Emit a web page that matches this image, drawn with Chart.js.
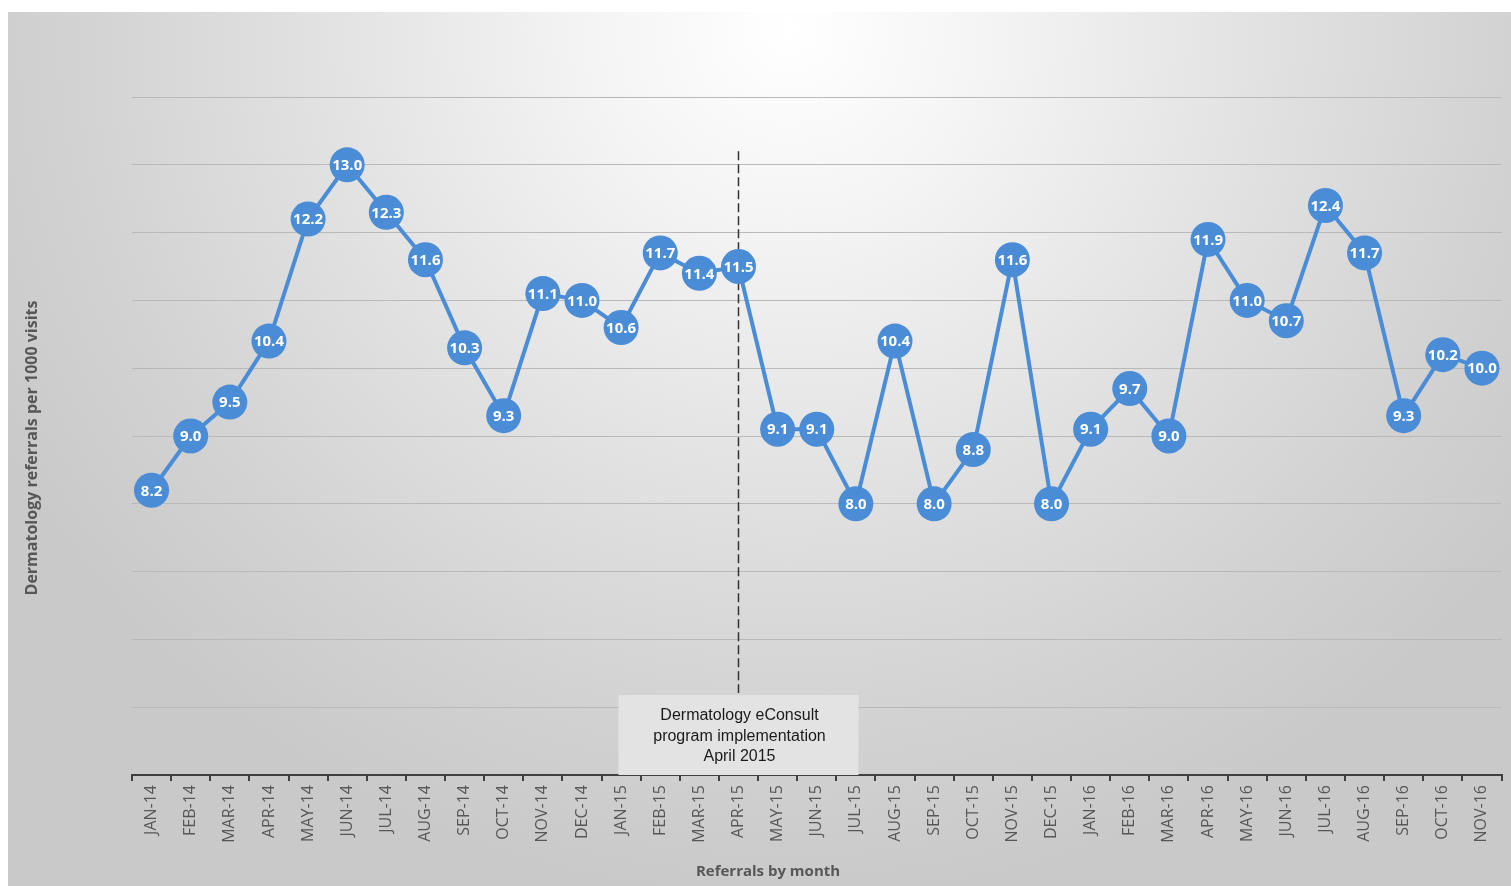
<!DOCTYPE html>
<html>
<head>
<meta charset="utf-8">
<title>Dermatology referrals per 1000 visits</title>
<script src="https://cdn.jsdelivr.net/npm/chart.js@4"></script>
<style>
  html, body { margin: 0; padding: 0; background: #ffffff; }
  #wrap { position: relative; width: 1511px; height: 886px; overflow: hidden; }
  #bg {
    position: absolute; left: 8px; top: 12px; right: 0; bottom: 0;
    background: radial-gradient(ellipse 60% 100% at 52% 2%, #ffffff 0%, #f4f4f4 22%, #e0e0e0 55%, #d2d2d2 80%, #c9c9c9 100%);
  }
  #chart { position: absolute; left: 0; top: 0; }
</style>
</head>
<body>
<div id="wrap">
  <div id="bg"></div>
  <!-- canvas is a little wider than the frame: the last rotated tick label reserves room on the right -->
  <canvas id="chart" width="1519" height="886"></canvas>
</div>
<script>
// monthly referrals, Jan 2014 - Nov 2016
const months = [
  'JAN-14', 'FEB-14', 'MAR-14', 'APR-14', 'MAY-14', 'JUN-14', 'JUL-14', 'AUG-14', 'SEP-14', 'OCT-14', 'NOV-14', 'DEC-14',
  'JAN-15', 'FEB-15', 'MAR-15', 'APR-15', 'MAY-15', 'JUN-15', 'JUL-15', 'AUG-15', 'SEP-15', 'OCT-15', 'NOV-15', 'DEC-15',
  'JAN-16', 'FEB-16', 'MAR-16', 'APR-16', 'MAY-16', 'JUN-16', 'JUL-16', 'AUG-16', 'SEP-16', 'OCT-16', 'NOV-16',
];
const referrals = [
  8.2, 9.0, 9.5, 10.4, 12.2, 13.0, 12.3, 11.6, 10.3, 9.3, 11.1, 11.0,
  10.6, 11.7, 11.4, 11.5, 9.1, 9.1, 8.0, 10.4, 8.0, 8.8, 11.6, 8.0,
  9.1, 9.7, 9.0, 11.9, 11.0, 10.7, 12.4, 11.7, 9.3, 10.2, 10.0,
];
const implementationMonth = 'APR-15';
const implementationText = ['Dermatology eConsult', 'program implementation', 'April 2015'];
const xTitle = 'Referrals by month';
const yTitle = 'Dermatology referrals per 1000 visits';

const BLUE = '#4a8dd6';
const AXIS = '#404040';
const LABEL = '#575757';

// white value labels centred in each marker
const valueLabels = {
  id: 'valueLabels',
  afterDatasetsDraw(chart) {
    const { ctx } = chart;
    const meta = chart.getDatasetMeta(0);
    ctx.save();
    ctx.font = "bold 15px 'Open Sans'";
    ctx.fillStyle = '#ffffff';
    ctx.textAlign = 'center';
    ctx.textBaseline = 'middle';
    meta.data.forEach((pt, i) => {
      ctx.fillText(referrals[i].toFixed(1), pt.x, pt.y + 1);
    });
    ctx.restore();
  },
};

// axis titles sit off-centre in the original, so place them by hand
const axisTitles = {
  id: 'axisTitles',
  afterDraw(chart) {
    const { ctx } = chart;
    ctx.save();
    ctx.fillStyle = LABEL;
    ctx.textAlign = 'center';
    ctx.textBaseline = 'middle';
    ctx.font = "bold 15px 'Open Sans'";
    ctx.fillText(xTitle, 768, 872);
    ctx.translate(32, 448);
    ctx.rotate(-Math.PI / 2);
    ctx.font = "bold 16px 'Open Sans'";
    ctx.fillText(yTitle, 0, 0);
    ctx.restore();
  },
};

// dashed implementation marker + caption box
const implementation = {
  id: 'implementation',
  beforeDatasetsDraw(chart) {
    const { ctx, scales } = chart;
    const x = scales.x.getPixelForValue(months.indexOf(implementationMonth));
    const bottom = chart.chartArea.bottom;
    ctx.save();
    // caption box
    ctx.fillStyle = '#e3e3e3';
    ctx.fillRect(x - 120, bottom - 80, 240, 80);
    ctx.font = "16px 'Liberation Sans'";
    ctx.fillStyle = '#1a1a1a';
    ctx.textAlign = 'center';
    ctx.textBaseline = 'middle';
    implementationText.forEach((t, i) => ctx.fillText(t, x + 1, bottom - 59 + i * 20.5));
    // dashed line
    ctx.strokeStyle = '#333333';
    ctx.lineWidth = 1.5;
    ctx.setLineDash([9, 4]);
    ctx.beginPath();
    ctx.moveTo(x, scales.y.getPixelForValue(13.2));
    ctx.lineTo(x, bottom - 82);
    ctx.stroke();
    ctx.restore();
  },
};

new Chart(document.getElementById('chart'), {
  type: 'line',
  data: {
    labels: months,
    datasets: [{
      data: referrals,
      borderColor: BLUE,
      borderWidth: 4,
      backgroundColor: BLUE,
      pointBackgroundColor: BLUE,
      pointBorderColor: BLUE,
      pointBorderWidth: 0,
      pointRadius: 17.5,
      tension: 0,
    }],
  },
  options: {
    responsive: false,
    animation: false,
    layout: { padding: { top: 97, right: 1, left: 0, bottom: 0 } },
    plugins: { legend: { display: false }, tooltip: { enabled: false } },
    scales: {
      x: {
        offset: true,
        grid: { offset: true, drawOnChartArea: false, drawTicks: true, tickLength: 6, color: AXIS, lineWidth: 2 },
        border: { display: true, color: AXIS, width: 2 },
        ticks: {
          minRotation: 90, maxRotation: 90, autoSkip: false, padding: 4,
          color: LABEL, font: { family: "'Open Sans'", size: 16 },
        },
        afterFit(scale) { scale.height = 111; },
      },
      y: {
        min: 4, max: 14,
        ticks: { display: false, stepSize: 1 },
        grid: { color: '#b9b9b9', lineWidth: 1, drawTicks: false },
        border: { display: false },
        afterFit(scale) { scale.width = 132; },
      },
    },
  },
  plugins: [implementation, valueLabels, axisTitles],
});
</script>
</body>
</html>
